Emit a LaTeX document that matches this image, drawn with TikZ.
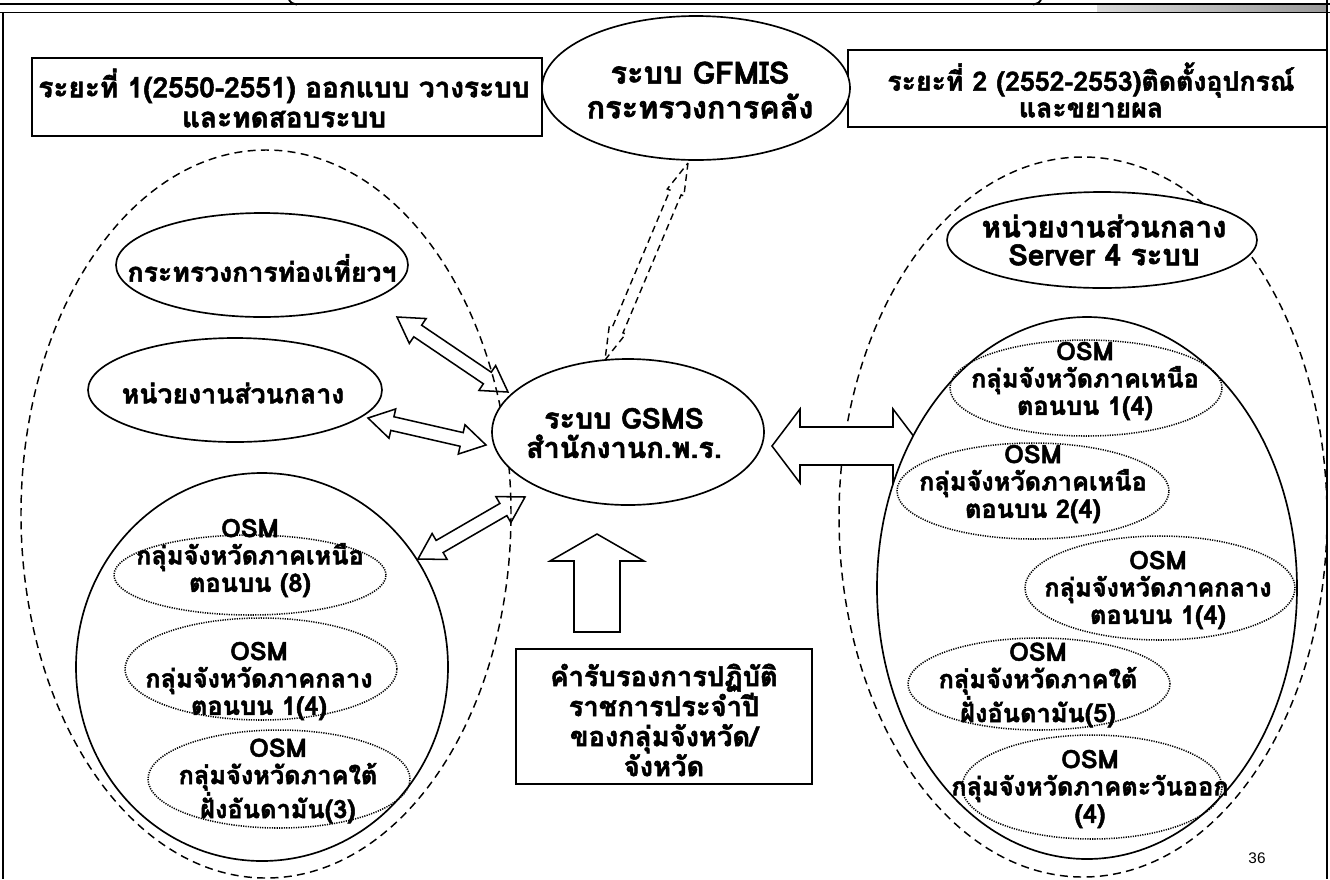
\documentclass[tikz,border=0pt]{standalone}
\usepackage{fontspec}
\setmainfont{Loma}[Script=Thai, BoldFeatures={FakeBold=1.9}]
\newfontfamily\numfont{Liberation Sans}
\usetikzlibrary{shapes.geometric,calc}
\newcommand\dblarrow[6][]{%
  \coordinate (da) at ($(#2)!#6!(#3)$);
  \coordinate (db) at ($(#3)!#6!(#2)$);
  \draw[#1] (#2) -- ($(da)!#5!90:(#3)$) -- ($(da)!#4!90:(#3)$) -- ($(db)!#4!-90:(#2)$) -- ($(db)!#5!-90:(#2)$) -- (#3) -- ($(db)!#5!90:(#2)$) -- ($(db)!#4!90:(#2)$) -- ($(da)!#4!-90:(#3)$) -- ($(da)!#5!-90:(#3)$) -- cycle;}
\newcommand\sglarrow[6][]{%
  \coordinate (hb) at ($(#3)!#6!(#2)$);
  \draw[#1] ($(#2)!#4!90:(#3)$) -- ($(hb)!#4!-90:(#2)$) -- ($(hb)!#5!-90:(#2)$) -- (#3) -- ($(hb)!#5!90:(#2)$) -- ($(hb)!#4!90:(#2)$) -- ($(#2)!#4!-90:(#3)$) -- cycle;}
\tikzset{
  E/.style 2 args={ellipse, inner sep=0pt, minimum width={1.5pt*#1}, minimum height={1.5pt*#2}},
  solidln/.style={draw, line width=1.25pt},
  textell/.style={solidln, fill=white},
  dashln/.style={draw, line width=1.1pt, dash pattern=on 6pt off 4pt},
  dotln/.style={draw, line width=1.15pt, dash pattern=on 0.9pt off 0.9pt},
  boxst/.style={draw, line width=1.35pt, fill=white, inner sep=0pt},
  fs/.style 2 args={font=\bfseries\fontsize{#1}{#2}\selectfont, align=center, inner sep=0pt},
  osmtext/.style={fs={19}{20.5}},
  blk/.style={line width=1.15pt, line join=miter},
}
\begin{document}
\begin{tikzpicture}[x=0.75pt,y=-0.75pt]
\useasboundingbox (0,0) rectangle (1330,879);
\fill[white] (0,0) rectangle (1330,879);
% top frame strip
\shade[left color=gray!30, right color=gray!80] (1097,4) rectangle (1327,12.5);
\draw[line width=1.4pt] (0,4) -- (1330,4);
\draw[line width=1.2pt] (0,12.5) -- (1330,12.5);
\draw[line width=1.2pt] (3,12.5) -- (3,879);
\draw[line width=1.4pt] (1327,0) -- (1327,879);
\draw[line width=1.4pt] (289,0) .. controls (291,3) .. (297,4.5);
\draw[line width=1.4pt] (1041,0) .. controls (1039,3) .. (1033,4.5);

% dashed group ellipses
\node[E={245}{364}, dashln] (ldash) at (266,514) {};
\node[E={244}{360}, dashln] (rdash) at (1083,517) {};

% header boxes and GFMIS
\node[boxst, minimum width=382.5pt, minimum height=58.5pt] (ph1) at (287,97) {};
\node[fs={21}{22.5}] (ph1t) at (284,98) {ระยะที่ 1(2550-2551) ออกแบบ วางระบบ\\และทดสอบระบบ};
\node[boxst, minimum width=359.25pt, minimum height=57.75pt] (ph2) at (1087.5,88.5) {};
\node[fs={20}{20}] (ph2t) at (1091,90) {ระยะที่ 2 (2552-2553)ติดตั้งอุปกรณ์\\และขยายผล};
\node[E={154}{72}, textell] (gfmis) at (696,88) {};
\node[fs={23}{26}] (gfmist) at (700,90) {ระบบ GFMIS\\กระทรวงการคลัง};

% arrow end points
\coordinate (aA1) at (397,317); \coordinate (aA2) at (508,392);
\coordinate (aB1) at (368,418); \coordinate (aB2) at (486,445);
\coordinate (aC1) at (525,497); \coordinate (aC2) at (418,559);
\coordinate (aR1) at (772,446); \coordinate (aR2) at (921,446);
\coordinate (up1) at (597,632); \coordinate (up2) at (597,534);
\coordinate (dg1) at (688,163); \coordinate (dg2) at (605,360);

% arrows
\dblarrow[blk, draw]{aA1}{aA2}{5.25pt}{11.25pt}{18.75pt}
\dblarrow[blk, draw]{aB1}{aB2}{5.25pt}{11.25pt}{18.75pt}
\dblarrow[blk, draw]{aC1}{aC2}{5.25pt}{11.25pt}{18.75pt}
\dblarrow[blk, draw, fill=white]{aR1}{aR2}{14.25pt}{27.75pt}{21pt}
\sglarrow[blk, draw]{up1}{up2}{17.25pt}{35.25pt}{20.25pt}
\dblarrow[line width=1.05pt, dash pattern=on 5pt off 3.5pt]{dg1}{dg2}{4.5pt}{6.75pt}{24pt}

% left group
\node[E={146}{52}, textell] (tour) at (262,265) {};
\node[fs={20}{22}] (tourt) at (262,268) {กระทรวงการท่องเที่ยวฯ};
\node[E={147}{52}, textell] (hn) at (235,390) {};
\node[fs={20}{22}] (hnt) at (233,393) {หน่วยงานส่วนกลาง};
\node[E={186}{194}, solidln] (lsol) at (262,667) {};
\node[E={136}{40}, dotln] (ol1) at (250,575) {};
\node[E={136}{51}, dotln] (ol2) at (261,669) {};
\node[E={131}{49}, dotln] (ol3) at (279,779) {};
\node[osmtext] (ol1t) at (250,558) {OSM\\กลุ่มจังหวัดภาคเหนือ\\ตอนบน (8)};
\node[osmtext] (ol2t) at (259,681) {OSM\\กลุ่มจังหวัดภาคกลาง\\ตอนบน 1(4)};
\node[osmtext] (ol3t) at (278,781) {OSM\\กลุ่มจังหวัดภาคใต้\\ฝั่งอันดามัน(3)};

% centre
\node[E={136}{73}, textell] (gsms) at (628,432) {};
\node[fs={21.5}{22}] (gsmst) at (624,433) {ระบบ GSMS\\สำนักงานก.พ.ร.};
\node[boxst, minimum width=222pt, minimum height=101.25pt] (cert) at (664,716.5) {};
\node[fs={20.5}{22.5}] (certt) at (664,720) {คำรับรองการปฏิบัติ\\ราชการประจำปี\\ของกลุ่มจังหวัด/\\จังหวัด};

% right group
\node[E={155}{48}, textell] (server) at (1102,240) {};
\node[fs={22}{21}] (servert) at (1104,240) {หน่วยงานส่วนกลาง\\Server 4 ระบบ};
\node[E={210}{271}, solidln, fill=white] (rsol) at (1087,588) {};
\node[E={136}{48}, dotln] (or1) at (1086,388) {};
\node[E={136}{48}, dotln] (or2) at (1033,491) {};
\node[E={135}{52}, dotln] (or3) at (1160,588) {};
\node[E={131}{46}, dotln] (or4) at (1039,684) {};
\node[E={130}{52}, dotln] (or5) at (1092,787) {};
\node[osmtext] (or1t) at (1085,381) {OSM\\กลุ่มจังหวัดภาคเหนือ\\ตอนบน 1(4)};
\node[osmtext] (or2t) at (1033,484) {OSM\\กลุ่มจังหวัดภาคเหนือ\\ตอนบน 2(4)};
\node[osmtext] (or3t) at (1158,590) {OSM\\กลุ่มจังหวัดภาคกลาง\\ตอนบน 1(4)};
\node[osmtext] (or4t) at (1038,685) {OSM\\กลุ่มจังหวัดภาคใต้\\ฝั่งอันดามัน(5)};
\node[osmtext] (or5t) at (1090,789) {OSM\\กลุ่มจังหวัดภาคตะวันออก\\(4)};

\node[font=\numfont\fontsize{11.5}{13}\selectfont, inner sep=0pt] (pg) at (1257,858) {36};
\end{tikzpicture}
\end{document}
